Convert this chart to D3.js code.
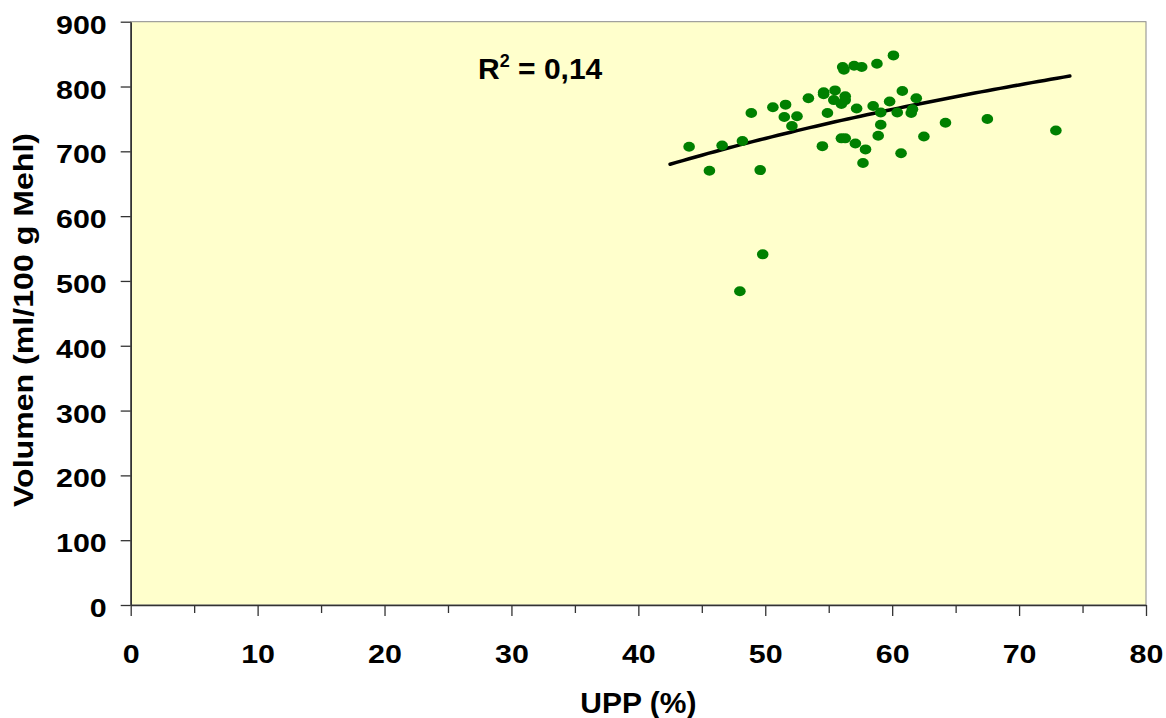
<!DOCTYPE html>
<html>
<head>
<meta charset="utf-8">
<script src="https://cdn.jsdelivr.net/npm/d3@7"></script>
<style>
    body { margin: 0; background: #fff; }
    svg text { font-family: "Liberation Sans", Arial, sans-serif; font-weight: bold; fill: #000; }
</style>
</head>
<body>
<div id="chart"></div>
<script>
// UPP (%) values and bread volume (ml/100 g flour)
const upp = [44.0, 45.6, 46.6, 48.2, 48.9, 49.6, 50.6, 51.6, 51.5, 52.5,
    52.1, 53.4, 54.6, 54.6, 55.5, 55.4, 54.9, 54.5, 56.1, 56.2,
    57.0, 57.6, 58.8, 60.1, 56.3, 56.3, 56.0, 57.2, 58.5, 59.1,
    59.1, 58.9, 59.8, 60.8, 60.4, 61.5, 61.6, 61.9, 62.5, 60.7,
    56.3, 56.0, 57.1, 57.9, 57.7, 64.2, 67.5, 72.9, 49.8, 48.0];
const volumen = [707, 670, 709, 716, 759, 671, 768, 772, 753, 754,
    739, 782, 791, 788, 794, 779, 759, 708, 830, 826,
    832, 830, 835, 848, 785, 779, 773, 766, 770, 760,
    741, 724, 777, 793, 760, 759, 765, 782, 723, 697,
    720, 720, 712, 703, 682, 744, 750, 732, 541, 484];
const xTicks = [0, 10, 20, 30, 40, 50, 60, 70, 80];
const yTicks = [0, 100, 200, 300, 400, 500, 600, 700, 800, 900];
const r2Label = "0,14";

document.addEventListener("DOMContentLoaded", function () {
    const width = 1166, height = 718;
    const plot = {left: 130.7, right: 1146, top: 21.7, bottom: 605};
    const stretch = 1.17;

    const svg = d3.select("#chart").append("svg")
        .attr("width", width)
        .attr("height", height);

    const x = d3.scaleLinear().domain([0, 80]).range([plot.left, plot.right]);
    const y = d3.scaleLinear().domain([0, 900]).range([plot.bottom, plot.top]);

    // plot area
    svg.append("rect")
        .attr("x", plot.left).attr("y", plot.top)
        .attr("width", plot.right - plot.left)
        .attr("height", plot.bottom - plot.top)
        .attr("fill", "#ffffcc")
        .attr("stroke", "#8a8a8a")
        .attr("stroke-width", 1);

    // logarithmic trendline, fitted like Excel does
    const pts = upp.map((u, i) => ({x: u, y: volumen[i]}));
    const lx = pts.map(p => Math.log(p.x));
    const mx = d3.mean(lx), my = d3.mean(pts, p => p.y);
    const a = d3.sum(pts, (p, i) => (lx[i] - mx) * (p.y - my)) / d3.sum(lx, v => (v - mx) ** 2);
    const b = my - a * mx;
    const [x0, x1] = d3.extent(upp);
    const trend = d3.range(x0 - 1.5, x1 + 1.5 + 0.01, 0.5).map(v => [v, a * Math.log(v) + b]);

    svg.append("path")
        .datum(trend)
        .attr("d", d3.line().x(d => x(d[0])).y(d => y(d[1])))
        .attr("fill", "none")
        .attr("stroke", "#000")
        .attr("stroke-width", 3.5)
        .attr("stroke-linecap", "round");

    // scatter points
    svg.append("g").selectAll("ellipse")
        .data(pts)
        .join("ellipse")
        .attr("cx", d => x(d.x))
        .attr("cy", d => y(d.y))
        .attr("rx", 5.8)
        .attr("ry", 5)
        .attr("fill", "#008000");

    // minor x ticks
    svg.append("g")
        .attr("transform", `translate(0,${plot.bottom})`)
        .call(d3.axisBottom(x).tickValues(d3.range(5, 80, 10)).tickSize(8).tickFormat(""))
        .call(g => g.select(".domain").remove())
        .call(g => g.selectAll("line").attr("stroke", "#333").attr("stroke-width", 1.3));

    // x axis
    svg.append("g")
        .attr("transform", `translate(0,${plot.bottom})`)
        .call(d3.axisBottom(x).tickValues(xTicks).tickSize(11).tickSizeOuter(0))
        .call(g => g.select(".domain").attr("stroke", "#333").attr("stroke-width", 1.6))
        .call(g => g.selectAll("line").attr("stroke", "#333").attr("stroke-width", 1.3))
        .call(g => g.selectAll("text")
            .attr("y", 58).attr("dy", null)
            .attr("transform", `scale(${stretch},1)`)
            .style("font-size", "26px"));

    // y axis
    svg.append("g")
        .attr("transform", `translate(${plot.left},0)`)
        .call(d3.axisLeft(y).tickValues(yTicks).tickSize(10).tickSizeOuter(0))
        .call(g => g.select(".domain").attr("stroke", "#333").attr("stroke-width", 1.6))
        .call(g => g.selectAll("line").attr("stroke", "#333").attr("stroke-width", 1.3))
        .call(g => g.selectAll("text")
            .attr("x", -24 / stretch).attr("dy", "11.5px")
            .attr("transform", `scale(${stretch},1)`)
            .style("font-size", "26px"));

    // axis titles
    svg.append("text")
        .attr("x", (plot.left + plot.right) / 2)
        .attr("y", 713)
        .attr("text-anchor", "middle")
        .style("font-size", "30px")
        .text("UPP (%)");

    svg.append("text")
        .attr("transform", "translate(33,320) rotate(-90)")
        .attr("text-anchor", "middle")
        .attr("textLength", 374)
        .attr("lengthAdjust", "spacingAndGlyphs")
        .style("font-size", "28px")
        .text("Volumen (ml/100 g Mehl)");

    // R squared label
    const r2 = svg.append("text")
        .attr("x", 478)
        .attr("y", 79)
        .style("font-size", "30px");
    r2.append("tspan").text("R");
    r2.append("tspan").attr("dy", -12).style("font-size", "18px").text("2");
    r2.append("tspan").attr("dy", 12).text(" = " + r2Label);
});
</script>
</body>
</html>
